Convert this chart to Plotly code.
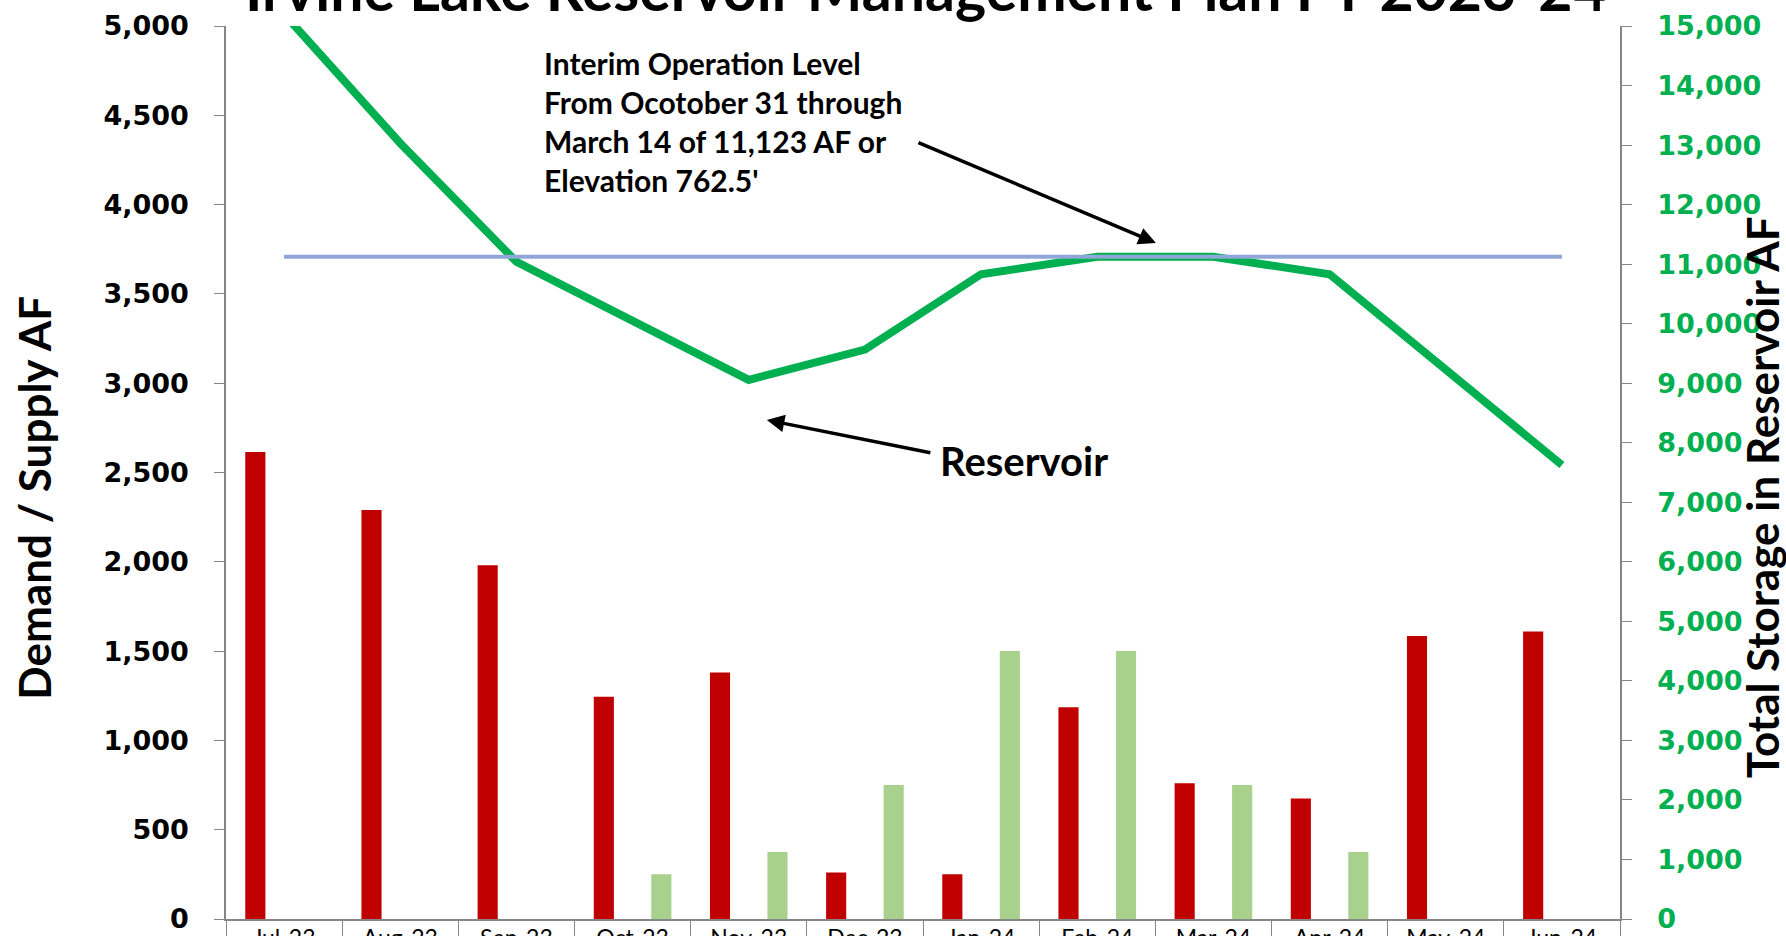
import plotly.graph_objects as go

# ---- data ----
months = ["Jul-23", "Aug-23", "Sep-23", "Oct-23", "Nov-23", "Dec-23",
          "Jan-24", "Feb-24", "Mar-24", "Apr-24", "May-24", "Jun-24"]
demand = [2615, 2290, 1980, 1245, 1380, 260, 250, 1185, 760, 675, 1585, 1610]
supply = [None, None, None, 250, 375, 750, 1500, 1500, 750, 375, None, None]
storage = [15200, 13030, 11040, 10050, 9055, 9565, 10830, 11123, 11123, 10830, 9230, 7626]
interim_level = 11123
interim_span = [months[0], months[-1]]

title_text = "Irvine Lake Reservoir Management Plan FY 2023-24"
left_title = "Demand / Supply AF"
right_title = "Total Storage in Reservoir AF"
interim_note = "Interim Operation Level<br>From Ocotober 31 through<br>March 14 of 11,123 AF or<br>Elevation 762.5'"
reservoir_note = "Reservoir"

RED = "#C00000"
LGREEN = "#A9D18E"
GREEN = "#00B050"
BLUE = "#8FA6D9"
AXIS = "#868686"

fig = go.Figure()
fig.add_trace(go.Bar(x=months, y=demand, name="Demand", marker=dict(color=RED, line=dict(width=0))))
fig.add_trace(go.Bar(x=months, y=supply, name="Supply", marker=dict(color=LGREEN, line=dict(width=0))))
fig.add_trace(go.Scatter(x=months, y=storage, yaxis="y2", mode="lines",
                         line=dict(color=GREEN, width=8), name="Reservoir"))
fig.add_trace(go.Scatter(x=interim_span, y=[interim_level, interim_level], yaxis="y2", mode="lines",
                         line=dict(color=BLUE, width=4), name="Interim"))

tickfont = dict(family="DejaVu Sans", size=27, weight="bold", color="black")

fig.update_layout(
    width=1786, height=936,
    margin=dict(l=226, r=166, t=26, b=17, autoexpand=False),
    paper_bgcolor="white", plot_bgcolor="white",
    showlegend=False,
    barmode="group", bargap=0.01, bargroupgap=0.65,
    xaxis=dict(type="category", showline=True, linecolor=AXIS, linewidth=1.5, automargin=False,
               ticks="outside", tickson="boundaries", ticklen=17, tickcolor=AXIS, tickwidth=1.3,
               ticklabelstandoff=-2,
               tickfont=dict(family="Lato", size=23, color="black"), showgrid=False, zeroline=False),
    yaxis=dict(range=[0, 5000], dtick=500, tickformat=",", showline=True, linecolor=AXIS, linewidth=1.5,
               ticks="outside", ticklen=10, tickcolor=AXIS, tickwidth=1.3, tickfont=tickfont,
               automargin=False, ticklabelstandoff=20, showgrid=False, zeroline=False),
    yaxis2=dict(range=[0, 15000], dtick=1000, tickformat=",", overlaying="y", side="right",
                showline=True, linecolor=AXIS, linewidth=1.5, ticks="outside", ticklen=10,
                tickcolor=AXIS, tickwidth=1.3, tickfont=dict(tickfont, color=GREEN),
                automargin=False, ticklabelstandoff=20, showgrid=False, zeroline=False),
)

annotations = [
    dict(text="<b>" + title_text + "</b>", xref="paper", yref="paper", x=0.502, y=1.042,
         xanchor="center", yanchor="middle", showarrow=False,
         font=dict(family="Lato", size=59, color="black")),
    dict(text="<b>" + left_title + "</b>", xref="paper", yref="paper", x=-0.138, y=0.4714,
         xanchor="center", yanchor="middle", textangle=-90, showarrow=False,
         font=dict(family="Lato", size=44, color="black")),
    dict(text="<b>" + right_title + "</b>", xref="paper", yref="paper", x=1.102, y=0.4726,
         xanchor="center", yanchor="middle", textangle=-90, showarrow=False,
         font=dict(family="Lato", size=44, color="black")),
    dict(text="<b>" + interim_note + "</b>", xref="paper", yref="paper", x=0.2267, y=0.981,
         xanchor="left", yanchor="top", align="left", showarrow=False,
         font=dict(family="Lato", size=30, color="black")),
    dict(text="<b>" + reservoir_note + "</b>", xref="paper", yref="paper", x=0.511, y=0.5129,
         xanchor="left", yanchor="middle", showarrow=False,
         font=dict(family="Lato", size=40, color="black")),
    dict(text="", xref="paper", yref="paper", x=0.6671, y=0.757, ax=-239, ay=-101,
         showarrow=True, arrowhead=2, arrowsize=1, arrowwidth=3.5, arrowcolor="black"),
    dict(text="", xref="paper", yref="paper", x=0.388, y=0.5588, ax=165, ay=33,
         showarrow=True, arrowhead=2, arrowsize=1, arrowwidth=3.5, arrowcolor="black"),
]
fig.update_layout(annotations=annotations)

fig.write_html("out.html", config={"displayModeBar": False},
               post_script="document.body.style.margin='0px';")
